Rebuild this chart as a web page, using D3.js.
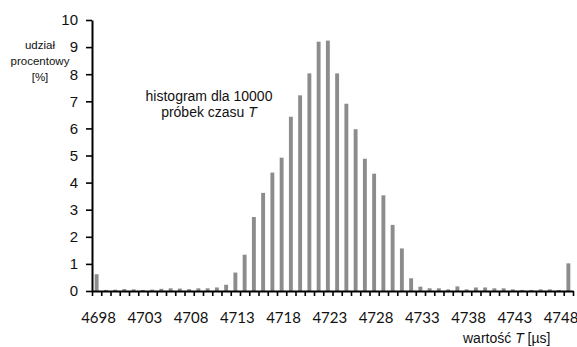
<!DOCTYPE html>
<html>
<head>
<meta charset="utf-8">
<script src="https://cdn.jsdelivr.net/npm/d3@7"></script>
<style>
  body { margin: 0; background: #fff; }
  svg { display: block; }
  .bar { fill: #8c8c8c; }
  .axis path, .axis line { stroke: #000; }
</style>
</head>
<body>
<script>
(function(){

    //categories: time values in microseconds (last bin is the overflow bin)
    var categories = d3.range(4698, 4750);

    //percentage share of each bin
    var shares = [0.62, 0.04, 0.05, 0.07, 0.06, 0.04, 0.05, 0.08, 0.10, 0.09,
                  0.07, 0.10, 0.10, 0.13, 0.23, 0.68, 1.34, 2.73, 3.62, 4.37,
                  4.92, 6.43, 7.22, 8.03, 9.20, 9.24, 8.03, 6.91, 5.97, 4.88,
                  4.33, 3.53, 2.44, 1.57, 0.47, 0.16, 0.10, 0.10, 0.06, 0.17,
                  0.06, 0.13, 0.13, 0.10, 0.10, 0.06, 0.04, 0.04, 0.06, 0.06,
                  0.04, 1.02];

    //tick labels
    var xTickLabels = [4698, 4703, 4708, 4713, 4718, 4723, 4728, 4733, 4738, 4743, 4748];
    var yTicks = d3.range(0, 11);

    var width = 577,
        height = 347,
        left = 92,
        right = 573,
        top = 20,
        bottom = 291;

    var svg = d3.select("body")
        .append("svg")
        .attr("width", width)
        .attr("height", height);

    var x = d3.scaleBand()
        .domain(categories)
        .range([left, right])
        .paddingInner(0.58)
        .paddingOuter(0.29);

    //linear scale over the bins, used for the boundary tick marks
    var xEdges = d3.scaleLinear()
        .domain([0, categories.length])
        .range([left, right]);

    var y = d3.scaleLinear()
        .domain([0, 10])
        .range([bottom, top]);

    //bars
    svg.selectAll(".bar")
        .data(categories)
        .enter()
        .append("rect")
        .attr("class", "bar")
        .attr("x", function(d){ return x(d); })
        .attr("width", x.bandwidth())
        .attr("y", function(d, i){ return y(shares[i]); })
        .attr("height", function(d, i){ return bottom - y(shares[i]); });

    //x axis: tick marks on bin boundaries
    var xAxis = svg.append("g")
        .attr("class", "axis")
        .attr("transform", "translate(0," + bottom + ")")
        .call(d3.axisBottom(xEdges)
            .tickValues(d3.range(0, categories.length + 1))
            .tickSize(5)
            .tickSizeOuter(0)
            .tickFormat(""));
    xAxis.select(".domain").attr("stroke-width", 2);
    xAxis.selectAll(".tick line").attr("stroke-width", 1.6);

    //x axis labels every 5 bins
    var xLabels = svg.append("g")
        .attr("transform", "translate(" + (x.bandwidth() / 2) + "," + bottom + ")")
        .call(d3.axisBottom(x)
            .tickValues(xTickLabels)
            .tickSize(0));
    xLabels.select(".domain").remove();
    xLabels.selectAll("text")
        .attr("y", 32)
        .attr("dy", 0)
        .attr("fill", "#111")
        .style("font-family", "Lato, 'Open Sans', sans-serif")
        .style("font-size", "15px");

    //y axis
    var yAxis = svg.append("g")
        .attr("class", "axis")
        .attr("transform", "translate(" + left + ",0)")
        .call(d3.axisLeft(y)
            .tickValues(yTicks)
            .tickSize(6)
            .tickSizeOuter(0)
            .tickPadding(8)
            .tickFormat(d3.format("d")));
    yAxis.select(".domain").attr("stroke-width", 2);
    yAxis.selectAll(".tick line").attr("stroke-width", 1.6);
    yAxis.selectAll("text")
        .attr("fill", "#111")
        .style("font-family", "'Liberation Sans', Arial, sans-serif")
        .style("font-size", "15px");

    //y axis title
    var yTitle = svg.append("text")
        .attr("text-anchor", "middle")
        .style("font-family", "'Liberation Sans', Arial, sans-serif")
        .style("font-size", "11.5px")
        .attr("fill", "#111");
    ["udział", "procentowy", "[%]"].forEach(function(t, i){
        yTitle.append("tspan")
            .attr("x", 40)
            .attr("y", 49 + i * 16)
            .text(t);
    });

    //annotation
    var note = svg.append("text")
        .attr("text-anchor", "middle")
        .style("font-family", "'Liberation Sans', Arial, sans-serif")
        .style("font-size", "14px")
        .attr("fill", "#111");
    note.append("tspan")
        .attr("x", 209)
        .attr("y", 101)
        .text("histogram dla 10000");
    var line2 = note.append("tspan")
        .attr("x", 209)
        .attr("y", 117)
        .text("próbek czasu ");
    line2.append("tspan")
        .style("font-style", "italic")
        .text("T");

    //x axis title
    var xTitle = svg.append("text")
        .attr("x", 463)
        .attr("y", 343)
        .style("font-family", "'Liberation Sans', Arial, sans-serif")
        .style("font-size", "14px")
        .attr("fill", "#111");
    xTitle.append("tspan").text("wartość ");
    xTitle.append("tspan").style("font-style", "italic").text("T");
    xTitle.append("tspan").text(" [µs]");

})();
</script>
</body>
</html>
